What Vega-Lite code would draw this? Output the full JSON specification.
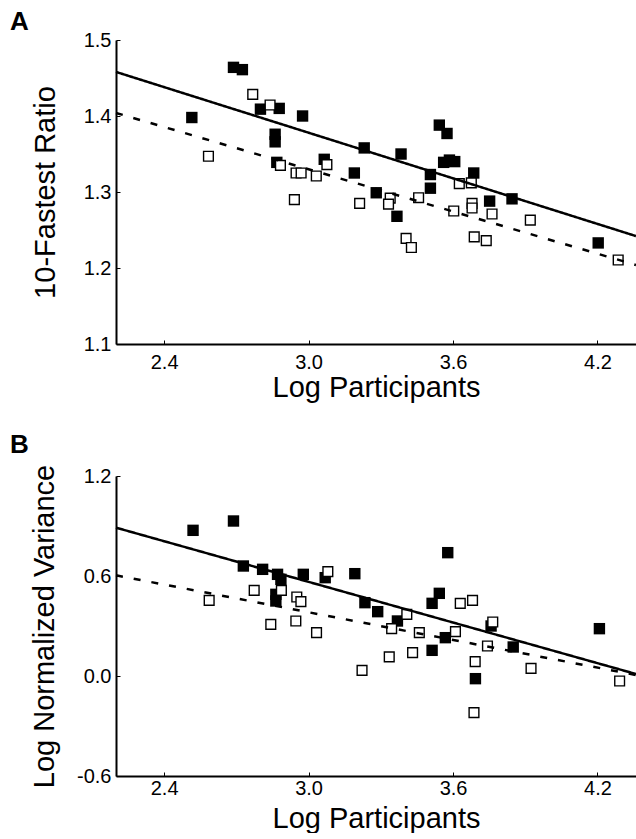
{
  "$schema": "https://vega.github.io/schema/vega-lite/v6.json",
  "padding": {"left": 10, "top": 9, "right": 0, "bottom": 0},
  "background": "white",
  "config": {
    "view": {"stroke": null},
    "font": "Liberation Sans",
    "axis": {
      "grid": false,
      "domainColor": "black",
      "domainWidth": 2,
      "tickColor": "black",
      "tickWidth": 1,
      "tickSize": -4,
      "labelFont": "Liberation Sans",
      "labelFontSize": 20,
      "labelColor": "black",
      "labelOverlap": false,
      "titleFont": "Liberation Sans",
      "titleFontSize": 29,
      "titleFontWeight": "normal",
      "titleColor": "black"
    }
  },
  "datasets": {
    "pts": [
      {"panel": "A", "grp": "filled", "x": 2.515, "y": 1.398},
      {"panel": "A", "grp": "filled", "x": 2.688, "y": 1.464},
      {"panel": "A", "grp": "filled", "x": 2.725, "y": 1.461},
      {"panel": "A", "grp": "filled", "x": 2.800, "y": 1.409},
      {"panel": "A", "grp": "filled", "x": 2.878, "y": 1.410},
      {"panel": "A", "grp": "filled", "x": 2.861, "y": 1.376},
      {"panel": "A", "grp": "filled", "x": 2.861, "y": 1.366},
      {"panel": "A", "grp": "filled", "x": 2.868, "y": 1.339},
      {"panel": "A", "grp": "filled", "x": 2.975, "y": 1.400},
      {"panel": "A", "grp": "filled", "x": 3.065, "y": 1.343},
      {"panel": "A", "grp": "filled", "x": 3.190, "y": 1.325},
      {"panel": "A", "grp": "filled", "x": 3.231, "y": 1.358},
      {"panel": "A", "grp": "filled", "x": 3.281, "y": 1.299},
      {"panel": "A", "grp": "filled", "x": 3.384, "y": 1.350},
      {"panel": "A", "grp": "filled", "x": 3.367, "y": 1.268},
      {"panel": "A", "grp": "filled", "x": 3.506, "y": 1.305},
      {"panel": "A", "grp": "filled", "x": 3.506, "y": 1.323},
      {"panel": "A", "grp": "filled", "x": 3.543, "y": 1.388},
      {"panel": "A", "grp": "filled", "x": 3.575, "y": 1.377},
      {"panel": "A", "grp": "filled", "x": 3.561, "y": 1.339},
      {"panel": "A", "grp": "filled", "x": 3.585, "y": 1.342},
      {"panel": "A", "grp": "filled", "x": 3.607, "y": 1.340},
      {"panel": "A", "grp": "filled", "x": 3.686, "y": 1.325},
      {"panel": "A", "grp": "filled", "x": 3.752, "y": 1.288},
      {"panel": "A", "grp": "filled", "x": 3.845, "y": 1.291},
      {"panel": "A", "grp": "filled", "x": 4.203, "y": 1.233},
      {"panel": "A", "grp": "open", "x": 2.584, "y": 1.347},
      {"panel": "A", "grp": "open", "x": 2.768, "y": 1.4285},
      {"panel": "A", "grp": "open", "x": 2.840, "y": 1.4145},
      {"panel": "A", "grp": "open", "x": 2.883, "y": 1.335},
      {"panel": "A", "grp": "open", "x": 2.948, "y": 1.325},
      {"panel": "A", "grp": "open", "x": 2.969, "y": 1.325},
      {"panel": "A", "grp": "open", "x": 3.032, "y": 1.321},
      {"panel": "A", "grp": "open", "x": 3.076, "y": 1.336},
      {"panel": "A", "grp": "open", "x": 2.941, "y": 1.290},
      {"panel": "A", "grp": "open", "x": 3.212, "y": 1.285},
      {"panel": "A", "grp": "open", "x": 3.339, "y": 1.292},
      {"panel": "A", "grp": "open", "x": 3.332, "y": 1.284},
      {"panel": "A", "grp": "open", "x": 3.405, "y": 1.239},
      {"panel": "A", "grp": "open", "x": 3.427, "y": 1.227},
      {"panel": "A", "grp": "open", "x": 3.457, "y": 1.2925},
      {"panel": "A", "grp": "open", "x": 3.603, "y": 1.275},
      {"panel": "A", "grp": "open", "x": 3.626, "y": 1.311},
      {"panel": "A", "grp": "open", "x": 3.676, "y": 1.312},
      {"panel": "A", "grp": "open", "x": 3.679, "y": 1.285},
      {"panel": "A", "grp": "open", "x": 3.679, "y": 1.279},
      {"panel": "A", "grp": "open", "x": 3.762, "y": 1.271},
      {"panel": "A", "grp": "open", "x": 3.688, "y": 1.241},
      {"panel": "A", "grp": "open", "x": 3.738, "y": 1.236},
      {"panel": "A", "grp": "open", "x": 3.921, "y": 1.263},
      {"panel": "A", "grp": "open", "x": 4.286, "y": 1.2105},
      {"panel": "B", "grp": "filled", "x": 2.520, "y": 0.874},
      {"panel": "B", "grp": "filled", "x": 2.688, "y": 0.930},
      {"panel": "B", "grp": "filled", "x": 2.729, "y": 0.660},
      {"panel": "B", "grp": "filled", "x": 2.809, "y": 0.640},
      {"panel": "B", "grp": "filled", "x": 2.871, "y": 0.610},
      {"panel": "B", "grp": "filled", "x": 2.885, "y": 0.580},
      {"panel": "B", "grp": "filled", "x": 2.864, "y": 0.490},
      {"panel": "B", "grp": "filled", "x": 2.864, "y": 0.450},
      {"panel": "B", "grp": "filled", "x": 2.978, "y": 0.610},
      {"panel": "B", "grp": "filled", "x": 3.069, "y": 0.590},
      {"panel": "B", "grp": "filled", "x": 3.192, "y": 0.614},
      {"panel": "B", "grp": "filled", "x": 3.234, "y": 0.440},
      {"panel": "B", "grp": "filled", "x": 3.287, "y": 0.386},
      {"panel": "B", "grp": "filled", "x": 3.369, "y": 0.330},
      {"panel": "B", "grp": "filled", "x": 3.513, "y": 0.436},
      {"panel": "B", "grp": "filled", "x": 3.543, "y": 0.496},
      {"panel": "B", "grp": "filled", "x": 3.578, "y": 0.740},
      {"panel": "B", "grp": "filled", "x": 3.568, "y": 0.230},
      {"panel": "B", "grp": "filled", "x": 3.513, "y": 0.154},
      {"panel": "B", "grp": "filled", "x": 3.758, "y": 0.300},
      {"panel": "B", "grp": "filled", "x": 3.850, "y": 0.174},
      {"panel": "B", "grp": "filled", "x": 3.693, "y": -0.016},
      {"panel": "B", "grp": "filled", "x": 4.208, "y": 0.284},
      {"panel": "B", "grp": "open", "x": 2.587, "y": 0.454},
      {"panel": "B", "grp": "open", "x": 2.774, "y": 0.514},
      {"panel": "B", "grp": "open", "x": 2.887, "y": 0.514},
      {"panel": "B", "grp": "open", "x": 2.951, "y": 0.474},
      {"panel": "B", "grp": "open", "x": 2.968, "y": 0.446},
      {"panel": "B", "grp": "open", "x": 2.843, "y": 0.310},
      {"panel": "B", "grp": "open", "x": 2.947, "y": 0.330},
      {"panel": "B", "grp": "open", "x": 3.033, "y": 0.260},
      {"panel": "B", "grp": "open", "x": 3.080, "y": 0.626},
      {"panel": "B", "grp": "open", "x": 3.222, "y": 0.034},
      {"panel": "B", "grp": "open", "x": 3.335, "y": 0.115},
      {"panel": "B", "grp": "open", "x": 3.345, "y": 0.284},
      {"panel": "B", "grp": "open", "x": 3.408, "y": 0.370},
      {"panel": "B", "grp": "open", "x": 3.432, "y": 0.140},
      {"panel": "B", "grp": "open", "x": 3.460, "y": 0.260},
      {"panel": "B", "grp": "open", "x": 3.610, "y": 0.266},
      {"panel": "B", "grp": "open", "x": 3.630, "y": 0.436},
      {"panel": "B", "grp": "open", "x": 3.681, "y": 0.454},
      {"panel": "B", "grp": "open", "x": 3.765, "y": 0.324},
      {"panel": "B", "grp": "open", "x": 3.743, "y": 0.180},
      {"panel": "B", "grp": "open", "x": 3.692, "y": 0.086},
      {"panel": "B", "grp": "open", "x": 3.687, "y": -0.220},
      {"panel": "B", "grp": "open", "x": 3.924, "y": 0.046},
      {"panel": "B", "grp": "open", "x": 4.292, "y": -0.030}
    ],
    "fits": [
      {"panel": "A", "fit": "solid", "x": 2.2, "y": 1.458},
      {"panel": "A", "fit": "solid", "x": 4.36, "y": 1.242},
      {"panel": "A", "fit": "dashed", "x": 2.2, "y": 1.404},
      {"panel": "A", "fit": "dashed", "x": 4.36, "y": 1.204},
      {"panel": "B", "fit": "solid", "x": 2.2, "y": 0.890},
      {"panel": "B", "fit": "solid", "x": 4.36, "y": 0.012},
      {"panel": "B", "fit": "dashed", "x": 2.2, "y": 0.604},
      {"panel": "B", "fit": "dashed", "x": 4.36, "y": 0.006}
    ]
  },
  "spacing": 30,
  "vconcat": [
    {
      "width": 520,
      "height": 304,
      "title": {"text": "A", "anchor": "start", "frame": "group", "dx": -106, "offset": -5, "fontSize": 26, "fontWeight": "bold", "font": "Liberation Sans", "color": "black"},
      "encoding": {
        "x": {"field": "x", "type": "quantitative", "scale": {"domain": [2.2, 4.36], "nice": false, "zero": false},
              "axis": {"title": "Log Participants", "values": [2.4, 3.0, 3.6, 4.2], "format": ".1f", "labelFlush": false, "labelPadding": 12, "titlePadding": 1}},
        "y": {"field": "y", "type": "quantitative", "scale": {"domain": [1.1, 1.5], "nice": false, "zero": false},
              "axis": {"title": "10-Fastest Ratio", "values": [1.1, 1.2, 1.3, 1.4, 1.5], "format": ".1f", "labelPadding": 9, "titlePadding": 23}}
      },
      "layer": [
        {"data": {"name": "pts"}, "transform": [{"filter": "datum.panel === 'A' && datum.grp === 'filled'"}],
         "mark": {"type": "square", "filled": true, "color": "black", "size": 130, "opacity": 1}},
        {"data": {"name": "pts"}, "transform": [{"filter": "datum.panel === 'A' && datum.grp === 'open'"}],
         "mark": {"type": "square", "fill": "white", "stroke": "black", "strokeWidth": 1.4, "size": 95, "opacity": 1}},
        {"data": {"name": "fits"}, "transform": [{"filter": "datum.panel === 'A'"}],
         "mark": {"type": "line", "color": "black", "strokeWidth": 2.5},
         "encoding": {"strokeDash": {"field": "fit", "type": "nominal", "scale": {"domain": ["solid", "dashed"], "range": [[1, 0], [7, 11]]}, "legend": null}}},
        {"data": {"values": [{"v": 1}]},
         "mark": {"type": "rule", "color": "#808080", "strokeWidth": 1},
         "encoding": {"x": {"datum": 2.2, "type": "quantitative"}, "x2": {"datum": 4.36}, "y": {"datum": 1.5, "type": "quantitative"}}}
      ]
    },
    {
      "width": 520,
      "height": 300,
      "title": {"text": "B", "anchor": "start", "frame": "group", "dx": -106, "offset": 6, "fontSize": 26, "fontWeight": "bold", "font": "Liberation Sans", "color": "black"},
      "encoding": {
        "x": {"field": "x", "type": "quantitative", "scale": {"domain": [2.2, 4.36], "nice": false, "zero": false},
              "axis": {"title": "Log Participants", "values": [2.4, 3.0, 3.6, 4.2], "format": ".1f", "labelFlush": false, "labelPadding": 6, "titlePadding": 6}},
        "y": {"field": "y", "type": "quantitative", "scale": {"domain": [-0.6, 1.2], "nice": false, "zero": false},
              "axis": {"title": "Log Normalized Variance", "values": [-0.6, 0.0, 0.6, 1.2], "labelExpr": "replace(format(datum.value, '.1f'), '\u2212', '-')", "labelPadding": 9, "titlePadding": 17}}
      },
      "layer": [
        {"data": {"name": "pts"}, "transform": [{"filter": "datum.panel === 'B' && datum.grp === 'filled'"}],
         "mark": {"type": "square", "filled": true, "color": "black", "size": 130, "opacity": 1}},
        {"data": {"name": "pts"}, "transform": [{"filter": "datum.panel === 'B' && datum.grp === 'open'"}],
         "mark": {"type": "square", "fill": "white", "stroke": "black", "strokeWidth": 1.4, "size": 95, "opacity": 1}},
        {"data": {"name": "fits"}, "transform": [{"filter": "datum.panel === 'B'"}],
         "mark": {"type": "line", "color": "black", "strokeWidth": 2.5},
         "encoding": {"strokeDash": {"field": "fit", "type": "nominal", "scale": {"domain": ["solid", "dashed"], "range": [[1, 0], [7, 11]]}, "legend": null}}},
        {"data": {"values": [{"v": 1}]},
         "mark": {"type": "rule", "color": "black", "strokeWidth": 1.5},
         "encoding": {"x": {"datum": 2.2, "type": "quantitative"}, "x2": {"datum": 4.36}, "y": {"datum": 1.2, "type": "quantitative"}}}
      ]
    }
  ]
}
